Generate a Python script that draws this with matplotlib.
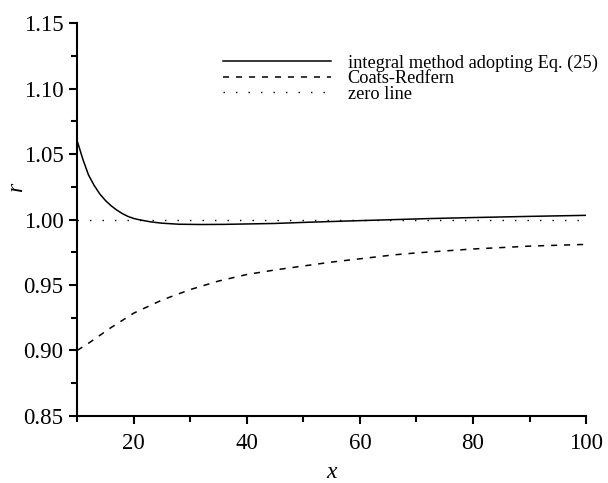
import matplotlib
matplotlib.use("Agg")
import matplotlib.pyplot as plt
from matplotlib.ticker import MultipleLocator, FormatStrFormatter

plt.rcParams['font.family'] = ['Liberation Serif', 'DejaVu Serif']
plt.rcParams['mathtext.fontset'] = 'stix'

x_int = [10, 11, 12, 13, 14, 15, 16, 17, 18, 19, 20, 21, 23, 25, 28, 32, 36, 45, 50, 58,
         65, 72, 80, 90, 100]
r_int = [1.060, 1.046, 1.034, 1.026, 1.0195, 1.0145, 1.0105, 1.0072, 1.0045, 1.0023, 1.0008,
         0.9998, 0.9982, 0.9972, 0.9964, 0.9962, 0.9963, 0.9970, 0.9978, 0.9989,
         0.9998, 1.0007, 1.0015, 1.0024, 1.0032]

x_cr = [10, 12, 14, 16, 18, 20, 25, 30, 35, 40, 45, 50, 55, 60, 66, 70, 76, 80, 87, 90, 100]
r_cr = [0.900, 0.9055, 0.9115, 0.9175, 0.923, 0.9285, 0.9385, 0.9465, 0.953, 0.958,
        0.9615, 0.9645, 0.9675, 0.970, 0.973, 0.9745, 0.9763, 0.9775, 0.979, 0.9797, 0.981]

x_zero = [10, 100]
r_zero = [1.0, 1.0]

labels = ["integral method adopting Eq. (25)", "Coats-Redfern", "zero line"]

fig = plt.figure(figsize=(6.08, 4.83), dpi=100)
ax = fig.add_axes([0.127, 0.139, 0.837, 0.813])

ax.plot(x_int, r_int, color='black', lw=1.1, ls='-', label=labels[0])
ax.plot(x_cr, r_cr, color='black', lw=1.1, ls=(0, (4, 4.5)), label=labels[1])
ax.plot(x_zero, r_zero, color='black', lw=1.0, ls=(0, (1, 8)), label=labels[2])

ax.set_xlim(10, 100)
ax.set_ylim(0.85, 1.15)
ax.xaxis.set_major_locator(MultipleLocator(20))
ax.xaxis.set_minor_locator(MultipleLocator(10))
ax.yaxis.set_major_locator(MultipleLocator(0.05))
ax.yaxis.set_minor_locator(MultipleLocator(0.025))
ax.yaxis.set_major_formatter(FormatStrFormatter('%.2f'))

for s in ['top', 'right']:
    ax.spines[s].set_visible(False)
for s in ['left', 'bottom']:
    ax.spines[s].set_linewidth(1.5)

ax.tick_params(which='major', direction='out', length=6, width=1.5, labelsize=16.5)
ax.tick_params(which='minor', direction='out', length=4, width=1.5)
ax.tick_params(axis='x', pad=6)
ax.tick_params(axis='y', pad=4)

ax.set_xlabel('x', fontsize=17, style='italic')
ax.set_ylabel('r', fontsize=17, style='italic')
ax.xaxis.set_label_coords(0.5, -0.117)
ax.yaxis.set_label_coords(-0.098, 0.583)

leg = ax.legend(loc='upper left', bbox_to_anchor=(0.287, 0.921), frameon=False,
                fontsize=13.2, handlelength=5.85, handletextpad=0.93, labelspacing=-0.08,
                borderaxespad=0, borderpad=0)

fig.savefig('out.png', dpi=100)
